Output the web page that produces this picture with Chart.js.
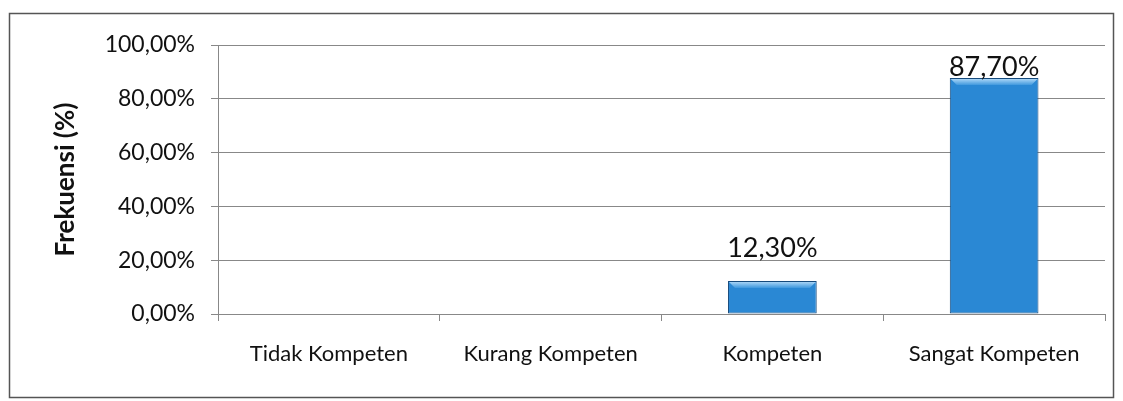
<!DOCTYPE html>
<html>
<head>
<meta charset="utf-8">
<script src="https://cdn.jsdelivr.net/npm/chart.js@4.4.0/dist/chart.umd.min.js"></script>
<style>
html,body{margin:0;padding:0;background:#fff;}
#wrap{position:relative;width:1123px;height:401px;}
</style>
</head>
<body>
<div id="wrap"><canvas id="c" width="1123" height="401"></canvas></div>
<script>
const categories = ["Tidak Kompeten", "Kurang Kompeten", "Kompeten", "Sangat Kompeten"];
const frekuensi = [0, 0, 12.3, 87.7];
const yTicks = [0, 20, 40, 60, 80, 100];
const axisTitle = "Frekuensi (%)";

const fmt = v => v.toFixed(2).replace('.', ',') + '%';

const framePlugin = {
  id: 'frame',
  beforeDraw(chart) {
    const ctx = chart.ctx;
    ctx.save();
    ctx.fillStyle = '#fff';
    ctx.fillRect(0, 0, chart.width, chart.height);
    ctx.strokeStyle = '#555';
    ctx.lineWidth = 1.5;
    ctx.strokeRect(9.5, 13.5, 1104, 384);
    ctx.restore();
  }
};

const bevelPlugin = {
  id: 'bevel',
  afterDatasetsDraw(chart, args, opts) {
    const ctx = chart.ctx;
    const meta = chart.getDatasetMeta(0);
    meta.data.forEach((bar, i) => {
      const v = frekuensi[i];
      if (!v) return;
      const l = bar.x - bar.width / 2, r = bar.x + bar.width / 2, t = bar.y;
      const h = 7;
      ctx.save();
      const g = ctx.createLinearGradient(0, t, 0, t + h);
      g.addColorStop(0, '#b9defa');
      g.addColorStop(1, '#3f98dd');
      ctx.fillStyle = g;
      ctx.beginPath();
      ctx.moveTo(l + 1, t + 1);
      ctx.lineTo(r - 1, t + 1);
      ctx.lineTo(r - 7, t + h);
      ctx.lineTo(l + 7, t + h);
      ctx.closePath();
      ctx.fill();
      ctx.restore();
      ctx.save();
      ctx.fillStyle = '#111';
      ctx.font = '27px Lato';
      ctx.textAlign = 'center';
      ctx.textBaseline = 'alphabetic';
      const off = opts.offsets[i] || 0;
      ctx.fillText(fmt(v), bar.x, t - 2 - off);
      ctx.restore();
    });
  }
};

new Chart(document.getElementById('c'), {
  type: 'bar',
  data: {
    labels: categories,
    datasets: [{
      data: frekuensi,
      barPercentage: 0.8,
      categoryPercentage: 0.5,
      backgroundColor(ctx) {
        const el = ctx.element;
        const chart = ctx.chart;
        if (!el || !chart.chartArea || !el.width) return '#2a88d4';
        const l = el.x - el.width / 2, r = el.x + el.width / 2;
        const g = chart.ctx.createLinearGradient(l, 0, r, 0);
        g.addColorStop(0, '#185c9e');
        g.addColorStop(0.1, '#2580cc');
        g.addColorStop(0.5, '#2d8cd9');
        g.addColorStop(0.9, '#2580cc');
        g.addColorStop(1, '#155591');
        return g;
      },
      borderColor: '#164a7c',
      borderWidth: ctx => (frekuensi[ctx.dataIndex] ? 1 : 0),
      borderSkipped: false
    }]
  },
  options: {
    responsive: false,
    animation: false,
    events: [],
    layout: { padding: { left: 0, right: 18, top: 45, bottom: 0 } },
    plugins: {
      legend: { display: false },
      tooltip: { enabled: false },
      bevel: { offsets: [0, 0, 22, 0] }
    },
    scales: {
      x: {
        offset: true,
        grid: { display: true, drawOnChartArea: false, drawTicks: true, tickLength: 7, color: '#888', offset: true },
        border: { display: true, color: '#888', width: 1 },
        ticks: { color: '#111', font: { family: 'Lato', size: 22 }, padding: 20, maxRotation: 0 },
        afterFit(s) { s.height = 87; }
      },
      y: {
        min: 0, max: 100,
        afterBuildTicks(s) { s.ticks = yTicks.map(v => ({ value: v })); },
        grid: { color: '#888', lineWidth: 1, tickLength: 7, drawTicks: true },
        border: { display: true, color: '#888', width: 1 },
        ticks: { color: '#111', font: { family: 'Lato', size: 23 }, padding: 16, callback: v => fmt(v) },
        title: { display: true, text: axisTitle, color: '#111', font: { family: 'Lato', size: 26, weight: 'bold' }, padding: { top: 50, bottom: 0 } },
        afterFit(s) { s.width = 218; }
      }
    }
  },
  plugins: [framePlugin, bevelPlugin]
});
</script>
</body>
</html>
